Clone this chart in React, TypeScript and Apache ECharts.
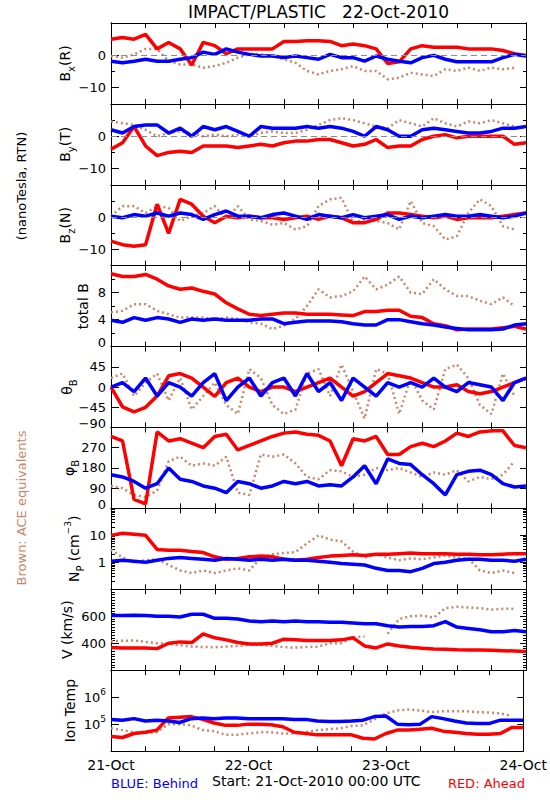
import { useEffect, useRef } from "react";
import * as echarts from "echarts";

// Time axis: hours after 21-Oct-2010 00:00 UTC
const HOURS = [0, 2, 4, 6, 8, 10, 12, 14, 16, 18, 20, 22, 24, 26, 28, 30, 32, 34, 36, 38, 40, 42, 44, 46, 48, 50, 52, 54, 56, 58, 60, 62, 64, 66, 68, 70, 72];

const BX_RED = [5, 5.5, 5, 6.5, 2, 4, 2, -3, 4, 3, 0.5, 2, 2, 2, 2, 4.3, 4.3, 4.5, 4.5, 4.3, 3, 3.5, 3, 2, -2.5, -2, 2, 3, 2.5, 2.5, 2.5, 2, 2, 2, 1.5, 0.5, 0];
const BX_BLUE = [-1.8, -2.3, -1.8, -1.2, -1.8, -1.8, -1.2, -0.7, 1, 0.3, 2, 1, 0.3, -0.2, -0.2, -0.7, -0.2, -0.7, -1.2, 0.3, -0.7, -0.7, -1.8, -0.2, -1.2, -1.8, -2.3, -0.7, 0, -1.2, -2, -2, -2, -2, -0.7, 0.3, -0.2];
const BX_BROWN = [-0.2, -0.7, 0.3, 2, 2, -1.8, -2.8, -2.8, -3.8, -3.3, -2.3, -0.7, 0.3, 0.3, -0.2, -1.2, -2.3, -4.8, -5.9, -4.8, -4.3, -3.3, -4.8, -4.8, -7.4, -6.9, -5.4, -5.9, -6.4, -4.3, -4.8, -3.8, -4.8, -3.8, -4.3, -3.8, null];

const BY_RED = [-4, -2, 3, -3, -6, -5, -4.6, -5, -3, -3, -3, -3.5, -3, -2.5, -3, -2, -1.5, -1.5, -1, -1, -2, -3, -2.5, -1, -3.5, -3, -3, -1, 0, 0.5, -0.5, 0, 0, 0, 0, -2.5, -2];
const BY_BLUE = [2, 1, 3, 3.5, 3.5, 1, 2.5, 0, 3, 2, 3, 1.5, 0, 3, 2.5, 2.5, 2.5, 3, 2.5, 3, 2.5, 1.5, 0, 3, 2, 0, 0, 2, 2.5, 2, 1.5, 1, 1, 1.5, 2.5, 2.5, 3];
const BY_BROWN = [4.6, 4, 3.5, 2, 0, 1, 1.5, 1, 0, 0.5, 0, 0.5, 0, 1, 1.5, 1, 1, 2, 3.5, 5, 5.6, 5, 4, 3, 2.5, 5, 4, 3, 5.6, 4, 3, 4.6, 4, 5, 4, 3, null];

const BZ_RED = [-7.4, -8.5, -9, -8.5, 4, -5, 5.5, 4, 0.3, -1.7, 0.3, -0.2, 0.3, -0.2, -0.2, -0.7, -0.2, 0.3, -0.7, 0.3, -0.2, -1.7, -1.7, -0.7, 1.3, 1.3, 0.8, 0.3, -0.2, 0.3, -0.7, -0.2, -0.2, -0.2, 0.3, 0.8, 1.3];
const BZ_BLUE = [0.3, -0.2, 0.8, 0.3, 1.3, 0.3, 1.3, 0.8, -0.7, 0.8, 1.9, 0.3, 0.3, -0.2, 0.8, 1.3, 0.3, -0.7, 0.8, 0.3, -0.2, 0.8, -0.2, 0.3, 0.8, -0.7, 0.3, -0.2, 0.3, 0.8, 0.3, 0.3, 0.8, 0.3, -0.2, 0.3, 1.3];
const BZ_BROWN = [0.3, 3.4, 3.4, 1.3, 3.4, 2.9, -1.2, 0.3, 1.3, 3.4, -0.7, 3.4, -0.7, -1.2, -2.3, -1.8, -3.8, -2.8, 3.4, 5.5, 6, -1.8, -0.7, -1.2, -1.8, -3.8, 5, -1.8, -2.8, -6.9, -5.9, 1.3, 5.5, 3.4, -2.8, -3.8, null];

const BT_RED = [10.8, 10.4, 10.4, 10.7, 10, 9, 8.5, 8.7, 8.2, 7.8, 6.5, 5.6, 4.8, 4.6, 4.8, 5, 5, 4.8, 4.8, 4.8, 4.7, 4.6, 5.2, 5.2, 5.4, 5.4, 4.5, 4.3, 3.4, 3.1, 2.5, 2.6, 2.6, 2.6, 2.8, 3, 2.6];
const BT_BLUE = [3.9, 3.6, 4.3, 3.9, 4.3, 4.1, 3.6, 4.1, 3.9, 4.1, 3.9, 3.9, 3.9, 4.1, 4.1, 3.4, 3.6, 3.8, 3.8, 3.8, 3.7, 3.4, 3.2, 3.2, 4, 4, 3.7, 3.4, 3.2, 2.9, 2.7, 2.5, 2.5, 2.5, 2.6, 3.2, 3.4];
const BT_BROWN = [5.1, 5.3, 6.3, 6.3, 5.3, 4.8, 4.3, 4.3, 4.3, 4.1, 4.3, 4.1, 3.6, 3.4, 2.6, 3.1, 4.1, 6, 8.5, 7.3, 7.5, 8.2, 10.4, 8.5, 9.2, 10.4, 8, 7.8, 10, 8.5, 7.5, 7.5, 6.8, 6.3, 7.3, 6, null];

const THETA_RED = [0, -44, -55, -45, -20, 25, 30, 20, 0, -21, 10, 20, 0, -10, 0, 0, -10, 0, 10, 20, 0, -20, -10, 10, 30, 25, 20, 10, 0, 0, 5, -10, -15, -10, 0, 10, 20];
const THETA_BLUE = [0, 10, -10, 20, -20, 10, 0, -20, 10, 30, -30, 0, 20, -20, 10, 20, -20, 30, -10, 10, -30, 20, 0, -20, 10, 0, 10, 0, 20, 0, -10, 10, 5, 0, -30, 10, 20];
const THETA_BROWN = [20, 30, -20, 10, 30, -30, 20, -50, -20, 10, -40, -60, 40, 20, -40, -60, -50, 30, 40, -20, 50, -10, -70, 40, 30, -60, 20, -30, -50, 40, 50, 20, -40, -60, 30, -20, null];

const PHI_RED = [320, 300, 40, 20, 340, 300, 310, 290, 270, 320, 330, 260, 280, 300, 320, 335, 340, 330, 325, 300, 190, 310, 300, 320, 240, 240, 275, 290, 275, 300, 335, 320, 340, 345, 345, 280, 270];
const PHI_BLUE = [150, 140, 120, 90, 110, 180, 130, 120, 100, 90, 70, 120, 110, 90, 100, 120, 110, 120, 100, 105, 100, 140, 190, 110, 220, 200, 195, 150, 110, 60, 150, 165, 170, 150, 110, 95, 100];
const PHI_BROWN = [100, 90, 60, 50, 80, 210, 230, 190, 200, 190, 230, 70, 60, 240, 230, 240, 200, 140, 130, 170, 165, 140, 150, 180, 170, 180, 160, 140, 160, 150, 170, 120, 140, 130, 150, 210, null];

const NP_RED = [10, 12, 11, 10, 3, 2.8, 2.8, 2.5, 2.3, 1.6, 1.3, 1.4, 1.6, 1.7, 1.6, 1.3, 1.2, 1.3, 1.5, 1.7, 1.8, 1.9, 1.8, 2, 2, 2.1, 2.2, 2.1, 2.1, 2.1, 2, 2, 1.9, 1.9, 2, 2.1, 2.1];
const NP_BLUE = [1.1, 1.2, 1.1, 1, 1.2, 1.4, 1.5, 1.4, 1.3, 1.2, 1.4, 1.3, 1.2, 1.3, 1.2, 1.3, 1.2, 1.2, 1.1, 1, 0.9, 0.85, 0.8, 0.6, 0.5, 0.5, 0.45, 0.6, 0.9, 1, 1.2, 1.3, 1.3, 1.2, 1.2, 1.1, 1.3];
const NP_BROWN = [3, 1.5, 1, 1.2, 1.3, 0.8, 0.5, 0.4, 0.5, 0.4, 0.5, 0.6, 0.5, 1.5, 2, 2.2, 2.4, 5, 10, 7, 6, 2.5, 1.5, 2, 1.5, 1.2, 1.4, 1.3, 1.5, 1.8, 1.5, 1.4, 0.5, 0.4, 0.5, 0.4, null];

const V_RED = [368, 365, 365, 365, 360, 400, 410, 405, 470, 440, 425, 405, 395, 395, 400, 430, 425, 420, 420, 420, 425, 440, 380, 365, 395, 380, 370, 362, 358, 355, 352, 350, 350, 348, 345, 342, 338];
const V_BLUE = [605, 605, 608, 605, 600, 600, 595, 615, 615, 585, 585, 580, 565, 560, 565, 560, 565, 560, 560, 555, 555, 550, 545, 545, 530, 520, 525, 525, 530, 560, 520, 510, 500, 485, 485, 495, 485];
const V_BROWN = [415, 418, 420, 410, 400, 395, 385, 375, 372, 370, 375, 380, 388, 388, 380, 370, 368, 372, 375, 400, 400, 445, 450, null, 470, 580, 600, 605, 590, 660, 670, 665, 660, 650, 655, 655, null];

const T_RED = [3.5e4, 3.2e4, 4.5e4, 5e4, 6e4, 1.7e5, 1.8e5, 1.9e5, 1.5e5, 1.1e5, 9e4, 9e4, 1e5, 1e5, 9.5e4, 8e4, 5e4, 4.5e4, 4e4, 4e4, 4e4, 4e4, 3e4, 2.8e4, 4.5e4, 6e4, 6e4, 6.5e4, 7e4, 5.5e4, 5e4, 4.5e4, 4.2e4, 4.2e4, 4.5e4, 7.5e4, 7.5e4];
const T_BLUE = [1.5e5, 1.4e5, 1.6e5, 1.3e5, 1.4e5, 1.3e5, 1.15e5, 1.6e5, 1.7e5, 1.6e5, 1.7e5, 1.7e5, 1.6e5, 1.6e5, 1.6e5, 1.6e5, 1.5e5, 1.5e5, 1.3e5, 1.25e5, 1.25e5, 1.3e5, 1.4e5, 1.9e5, 2e5, 1e5, 9.5e4, 1e5, 1.9e5, 1.6e5, 1.3e5, 1.1e5, 1.05e5, 1.05e5, 1.4e5, 1.4e5, 1.4e5];
const T_BROWN = [7e4, 6e4, 5e4, 4.8e4, 5e4, 1e5, 1e5, 9e4, 6e4, 5.5e4, 4e4, 4e4, 4.5e4, 5e4, 5e4, 4.5e4, 4.5e4, 5e4, 6e4, 6.5e4, 7e4, 8.5e4, 9e4, 1.5e5, 2.5e5, 3.2e5, 3.5e5, 3.2e5, 2.8e5, 3e5, 3e5, 3e5, 2.8e5, 2.7e5, 2.5e5, 2e5, null];

const DAY_LABELS: Record<number, string> = { 0: "21-Oct", 24: "22-Oct", 48: "23-Oct", 72: "24-Oct" };

const RED = "#ff0000";
const BLUE = "#0000ff";
const BROWN = "#c8866a";
const FONT = "DejaVu Sans";

const minus = (v: number) => {
  const r = Math.round(v);
  return r < 0 ? "\u2212" + Math.abs(r) : String(r);
};
const pow10 = (v: number) => "{b|10}{p|" + Math.round(Math.log10(v)) + "}";

const V_MINOR = [220, 240, 260, 280, 300, 320, 340, 360, 380, 420, 440, 460, 480, 500, 520, 540, 560, 580, 620, 640, 660, 680, 700, 720, 740, 760, 780];
const NP_MINOR = [0.2, 0.3, 0.4, 0.5, 0.6, 0.7, 0.8, 0.9, 2, 3, 4, 5, 6, 7, 8, 9, 20, 30, 40, 50, 60, 70, 80, 90];

type Panel = {
  name: string; nameX: number; scale: "value" | "log"; min: number; max: number;
  labels: number[]; edgeLabel?: string; major: number[]; minor: number[]; fmt: (v: number) => string;
  zero?: boolean; brown: (number | null)[]; red: (number | null)[]; blue: (number | null)[];
};

const PANELS: Panel[] = [
  { name: "{n|B}{s|x}{n|(R)}", nameX: 65, scale: "value", min: -15, max: 10, labels: [-10, 0], major: [-10, 0], minor: [-5, 5], fmt: minus, zero: true, brown: BX_BROWN, red: BX_RED, blue: BX_BLUE },
  { name: "{n|B}{s|y}{n|(T)}", nameX: 65, scale: "value", min: -15, max: 10, labels: [-10, 0], major: [-10, 0], minor: [-5, 5], fmt: minus, zero: true, brown: BY_BROWN, red: BY_RED, blue: BY_BLUE },
  { name: "{n|B}{s|z}{n|(N)}", nameX: 65, scale: "value", min: -15, max: 10, labels: [-10, 0], major: [-10, 0], minor: [-5, 5], fmt: minus, zero: true, brown: BZ_BROWN, red: BZ_RED, blue: BZ_BLUE },
  { name: "{n|total B}", nameX: 83, scale: "value", min: 0, max: 12, labels: [4, 8], edgeLabel: "0", major: [4, 8], minor: [2, 6, 10], fmt: minus, brown: BT_BROWN, red: BT_RED, blue: BT_BLUE },
  { name: "{n|\u03b8}{s|B}", nameX: 67, scale: "value", min: -90, max: 90, labels: [-45, 0, 45], edgeLabel: "\u221290", major: [-45, 0, 45], minor: [], fmt: minus, brown: THETA_BROWN, red: THETA_RED, blue: THETA_BLUE },
  { name: "{n|\u03c6}{s|B}", nameX: 69, scale: "value", min: 0, max: 360, labels: [90, 180, 270], edgeLabel: "0", major: [90, 180, 270], minor: [], fmt: minus, brown: PHI_BROWN, red: PHI_RED, blue: PHI_BLUE },
  { name: "{n|N}{s|P}{n| (cm}{p|\u22123}{n|)}", nameX: 74, scale: "log", min: 0.1, max: 100, labels: [1, 10], major: [1, 10], minor: NP_MINOR, fmt: (v) => String(v), brown: NP_BROWN, red: NP_RED, blue: NP_BLUE },
  { name: "{n|V (km/s)}", nameX: 67, scale: "value", min: 200, max: 800, labels: [400, 600], major: [400, 600], minor: V_MINOR, fmt: minus, brown: V_BROWN, red: V_RED, blue: V_BLUE },
  { name: "{n|Ion Temp}", nameX: 70, scale: "log", min: 1e4, max: 1e7, labels: [1e5, 1e6], major: [1e5, 1e6], minor: [], fmt: pow10, brown: T_BROWN, red: T_RED, blue: T_BLUE },
];

const TOP0 = 23;
const PH = 80.9;
const LEFT = 111;
const WIDTH = 415;

function toData(vals: (number | null)[]) {
  const out: any[] = [];
  HOURS.forEach((h, i) => {
    const v = vals[i];
    out.push(v === null || v === undefined ? [h, "-"] : [h, v]);
  });
  return out;
}

function buildOption() {
  const grid: any[] = [];
  const xAxis: any[] = [];
  const yAxis: any[] = [];
  const series: any[] = [];
  const graphic: any[] = [];
  const black = { color: "#000", width: 1 };
  const nameRich = {
    n: { fontSize: 14, fontFamily: FONT, lineHeight: 22, fill: "#000" },
    s: { fontSize: 10, fontFamily: FONT, lineHeight: 12, verticalAlign: "bottom", fill: "#000" },
    p: { fontSize: 9, fontFamily: FONT, lineHeight: 12, verticalAlign: "top", fill: "#000" },
  };

  PANELS.forEach((p, i) => {
    const top = TOP0 + i * PH;
    grid.push({ left: LEFT, width: WIDTH, top, height: PH, show: false });
    const xBase = {
      type: "value", gridIndex: i, min: 0, max: 72, interval: 6,
      axisLine: { show: true, onZero: false, lineStyle: black },
      axisTick: { show: true, inside: true, length: 5, lineStyle: black },
      splitLine: { show: false },
    };
    xAxis.push({
      ...xBase, position: "bottom",
      axisLabel: {
        show: i === PANELS.length - 1, formatter: (v: number) => DAY_LABELS[v] ?? "",
        fontSize: 14, fontFamily: FONT, color: "#000", margin: 7,
      },
    });
    xAxis.push({ ...xBase, position: "top", axisLabel: { show: false } });

    const yBase: any = {
      type: p.scale, gridIndex: i, min: p.min, max: p.max,
      splitLine: { show: false },
      axisLine: { show: true, onZero: false, lineStyle: black },
    };
    if (p.scale === "log") yBase.logBase = 10;
    yAxis.push({
      ...yBase, position: "left",
      axisTick: { show: true, inside: true, length: 8, customValues: p.major, lineStyle: black },
      axisLabel: {
        show: true, customValues: p.labels, formatter: p.fmt, fontSize: 13, fontFamily: FONT, color: "#000", margin: 5,
        rich: {
          b: { fontSize: 13, fontFamily: FONT, lineHeight: 20, color: "#000" },
          p: { fontSize: 9, fontFamily: FONT, lineHeight: 10, verticalAlign: "top", color: "#000" },
        },
      },
    });
    yAxis.push({
      ...yBase, position: "left",
      axisTick: { show: p.minor.length > 0, inside: true, length: 4, customValues: p.minor, lineStyle: black },
      axisLabel: { show: false },
    });
    yAxis.push({
      ...yBase, position: "right",
      axisTick: { show: true, inside: true, length: 6, customValues: p.major, lineStyle: black },
      axisLabel: { show: false },
    });
    yAxis.push({
      ...yBase, position: "right",
      axisTick: { show: p.minor.length > 0, inside: true, length: 3, customValues: p.minor, lineStyle: black },
      axisLabel: { show: false },
    });

    const common = { type: "line", xAxisIndex: 2 * i, yAxisIndex: 4 * i, showSymbol: false, symbol: "none", silent: true, connectNulls: false };
    series.push({
      ...common, name: "ACE", data: toData(p.brown),
      lineStyle: { color: BROWN, width: 2.5, type: [2, 3] },
      markLine: p.zero
        ? { silent: true, symbol: "none", label: { show: false }, lineStyle: { color: "#8c8c8c", type: [6, 4], width: 1 }, data: [{ yAxis: 0 }] }
        : undefined,
    });
    series.push({ ...common, name: "Ahead", data: toData(p.red), lineStyle: { color: RED, width: 3.5 } });
    series.push({ ...common, name: "Behind", data: toData(p.blue), lineStyle: { color: BLUE, width: 3.5 } });

    graphic.push({
      type: "text", x: p.nameX, y: top + PH / 2, rotation: Math.PI / 2,
      style: { text: p.name, rich: nameRich, align: "center", verticalAlign: "middle", fill: "#000", font: "14px " + FONT },
    });
    if (p.edgeLabel) {
      // tick label at the bottom end of the axis (ECharts hides labels sitting on the axis end)
      graphic.push({
        type: "text", x: LEFT - 5, y: top + PH - 4,
        style: { text: p.edgeLabel, align: "right", verticalAlign: "middle", fill: "#000", font: "13px " + FONT },
      });
    }
  });

  graphic.push({
    type: "text", x: 318.5, y: 12,
    style: { text: "IMPACT/PLASTIC   22-Oct-2010", align: "center", verticalAlign: "middle", fill: "#000", font: "17px " + FONT },
  });
  graphic.push({
    type: "text", x: 21, y: 186, rotation: Math.PI / 2,
    style: { text: "(nanoTesla, RTN)", align: "center", verticalAlign: "middle", fill: "#000", font: "13px " + FONT },
  });
  graphic.push({
    type: "text", x: 21, y: 508, rotation: Math.PI / 2,
    style: { text: "Brown: ACE equivalents", align: "center", verticalAlign: "middle", fill: BROWN, font: "13px " + FONT },
  });
  graphic.push({
    type: "text", x: 111, y: 783,
    style: { text: "BLUE: Behind", align: "left", verticalAlign: "middle", fill: BLUE, font: "13px " + FONT },
  });
  graphic.push({
    type: "text", x: 212, y: 781,
    style: { text: "Start: 21-Oct-2010 00:00 UTC", align: "left", verticalAlign: "middle", fill: "#000", font: "14px " + FONT },
  });
  graphic.push({
    type: "text", x: 525, y: 783,
    style: { text: "RED: Ahead", align: "right", verticalAlign: "middle", fill: RED, font: "13px " + FONT },
  });

  return {
    animation: false,
    backgroundColor: "#ffffff",
    grid, xAxis, yAxis, series, graphic,
  };
}

export default function App() {
  const ref = useRef<HTMLDivElement>(null);
  useEffect(() => {
    if (!ref.current) return;
    const chart = echarts.init(ref.current, null, { renderer: "svg", width: 550, height: 800 });
    chart.setOption(buildOption() as any);
    return () => chart.dispose();
  }, []);
  return <div ref={ref} style={{ position: "absolute", left: 0, top: 0, width: 550, height: 800 }} />;
}
